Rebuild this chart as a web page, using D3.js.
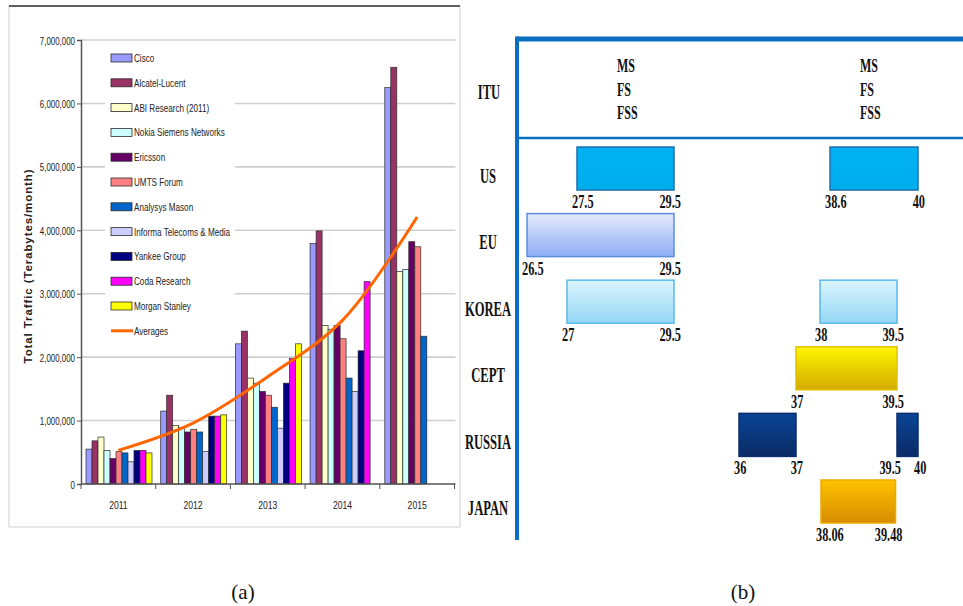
<!DOCTYPE html>
<html>
<head>
<meta charset="utf-8">
<script src="https://cdn.jsdelivr.net/npm/d3@7/dist/d3.min.js"></script>
<style>
  html, body { margin: 0; padding: 0; background: #fff; }
  svg { display: block; }
  .sans { font-family: "Liberation Sans", Arial, sans-serif; }
  .serif { font-family: "Liberation Serif", "Times New Roman", serif; }
</style>
</head>
<body>
<svg id="fig" width="963" height="606"></svg>
<script>
// ---------- (a) mobile traffic forecasts, terabytes per month ----------
const years = ["2011", "2012", "2013", "2014", "2015"];
const seriesNames = [
  "Cisco", "Alcatel-Lucent", "ABI Research (2011)", "Nokia Siemens Networks",
  "Ericsson", "UMTS Forum", "Analysys Mason", "Informa Telecoms & Media",
  "Yankee Group", "Coda Research", "Morgan Stanley"
];
const cisco          = [550000, 1150000, 2210000, 3790000, 6250000];
const alcatelLucent  = [680000, 1400000, 2410000, 3990000, 6570000];
const abiResearch    = [740000,  920000, 1670000, 2500000, 3350000];
const nokiaSiemens   = [530000,  890000, 1590000, 2440000, 3380000];
const ericsson       = [400000,  820000, 1460000, 2500000, 3820000];
const umtsForum      = [510000,  860000, 1400000, 2290000, 3740000];
const analysysMason  = [490000,  820000, 1210000, 1670000, 2330000];
const informa        = [350000,  510000,  880000, 1460000, null];
const yankeeGroup    = [530000, 1070000, 1590000, 2100000, null];
const codaResearch   = [530000, 1070000, 1980000, 3190000, null];
const morganStanley  = [490000, 1090000, 2210000, null, null];
const averages       = [530000,  960000, 1690000, 2580000, 4210000];
const yTicks = [0, 1000000, 2000000, 3000000, 4000000, 5000000, 6000000, 7000000];

const seriesValues = [cisco, alcatelLucent, abiResearch, nokiaSiemens, ericsson,
  umtsForum, analysysMason, informa, yankeeGroup, codaResearch, morganStanley];
const seriesColors = ["#9999ff", "#993366", "#ffffcc", "#ccffff", "#660066",
  "#ff8080", "#0066cc", "#ccccff", "#000080", "#ff00ff", "#ffff00"];
const averageColor = "#ff6600";

// ---------- (b) frequency band allocations, GHz ----------
const regions = ["US", "EU", "KOREA", "CEPT", "RUSSIA", "JAPAN"];
const bandRegion = ["US", "US", "EU", "KOREA", "KOREA", "CEPT", "RUSSIA", "RUSSIA", "JAPAN"];
const bandLow    = [27.5, 38.6, 26.5, 27,   38,   37,   36, 39.5, 38.06];
const bandHigh   = [29.5, 40,   29.5, 29.5, 39.5, 39.5, 37, 40,   39.48];
const ituServices = ["MS", "FS", "FSS"];
// the band plan is schematic, so each frequency stop has its own place on the axis
const freqStops = [26.5, 27, 27.5, 29.5, 36, 37, 38, 38.6, 39.5, 40];

const svg = d3.select("#fig");
svg.append("rect").attr("width", 963).attr("height", 606).attr("fill", "#fff");

// condensed text: regular font squeezed horizontally
function cText(g, cls, x, yPos, str, size, anchor, sx, weight) {
  return g.append("text").attr("class", cls)
    .attr("transform", `translate(${x},${yPos}) scale(${sx},1)`)
    .attr("text-anchor", anchor).attr("font-size", size)
    .attr("font-weight", weight || "normal").attr("fill", "#111").text(str);
}

// =================== panel (a) ===================
const A = { left: 81, right: 454.5, top: 40, bottom: 484 };
const pa = svg.append("g");

// outer chart frame
pa.append("rect").attr("x", 9).attr("y", 6).attr("width", 451).attr("height", 521)
  .attr("fill", "none").attr("stroke", "#cfcfcf").attr("stroke-width", 1);
pa.append("line").attr("x1", 9).attr("x2", 460).attr("y1", 6).attr("y2", 6)
  .attr("stroke", "#333").attr("stroke-width", 1.5);

const x0 = d3.scaleBand().domain(years).range([A.left, A.right]);
const x1 = d3.scaleBand().domain(seriesNames).range([5, x0.bandwidth() - 3.7]);
const y = d3.scaleLinear().domain([0, 7000000]).range([A.bottom, A.top]);

// gridlines
pa.append("g").selectAll("line").data(yTicks.filter(d => d > 0)).join("line")
  .attr("x1", A.left).attr("x2", A.right + 1)
  .attr("y1", d => y(d)).attr("y2", d => y(d))
  .attr("stroke", "#cfcfcf").attr("stroke-width", 1.6);

// legend background hides the grid behind it
pa.append("rect").attr("x", 105).attr("y", 46).attr("width", 130).attr("height", 298).attr("fill", "#fff");

// bars
const barData = [];
seriesNames.forEach((s, i) => years.forEach((yr, j) => {
  const v = seriesValues[i][j];
  if (v != null) barData.push({ series: s, year: yr, value: v, color: seriesColors[i] });
}));
pa.append("g").selectAll("rect").data(barData).join("rect")
  .attr("x", d => x0(d.year) + x1(d.series))
  .attr("width", x1.bandwidth())
  .attr("y", d => y(d.value))
  .attr("height", d => y(0) - y(d.value))
  .attr("fill", d => d.color)
  .attr("stroke", "#2b2b2b").attr("stroke-width", 0.7);

// averages line
const avgLine = d3.line()
  .x((d, i) => x0(years[i]) + x0.bandwidth() / 2)
  .y(d => y(d))
  .curve(d3.curveCatmullRom.alpha(0.5));
pa.append("path").datum(averages).attr("d", avgLine)
  .attr("fill", "none").attr("stroke", averageColor).attr("stroke-width", 3);

// y axis
const yAxis = d3.axisLeft(y).tickValues(yTicks).tickSize(4).tickPadding(3)
  .tickFormat(d3.format(","));
const gy = pa.append("g").attr("transform", `translate(${A.left},0)`).call(yAxis);
gy.select(".domain").attr("stroke", "#555").attr("stroke-width", 1.5);
gy.selectAll(".tick line").attr("stroke", "#555");
gy.selectAll(".tick text")
  .attr("class", "sans").attr("font-size", 11).attr("fill", "#222")
  .attr("x", null).attr("dy", null)
  .attr("transform", "translate(-6,4) scale(0.72,1)");

// x axis with ticks at category boundaries
const gx = pa.append("g").attr("transform", `translate(0,${A.bottom})`);
gx.append("line").attr("x1", A.left).attr("x2", A.right + 1).attr("stroke", "#555").attr("stroke-width", 1.5);
gx.selectAll("line.tk").data(d3.range(years.length + 1)).join("line").attr("class", "tk")
  .attr("x1", i => A.left + i * x0.bandwidth()).attr("x2", i => A.left + i * x0.bandwidth())
  .attr("y1", 0).attr("y2", 5).attr("stroke", "#555");
years.forEach(yr => cText(gx, "sans", x0(yr) + x0.bandwidth() / 2, 25, yr, 11, "middle", 0.78).attr("fill", "#222"));

// y axis title
pa.append("text").attr("transform", `translate(32,${(A.top + A.bottom) / 2 + 4}) rotate(-90)`)
  .attr("text-anchor", "middle").attr("class", "sans")
  .attr("font-weight", "bold").attr("font-size", 11.5).attr("letter-spacing", 0.9).attr("fill", "#222")
  .text("Total Traffic (Terabytes/month)");

// legend
const legendItems = seriesNames.map((s, i) => ({ name: s, color: seriesColors[i], line: false }))
  .concat([{ name: "Averages", color: averageColor, line: true }]);
const lg = pa.append("g").selectAll("g").data(legendItems).join("g")
  .attr("transform", (d, i) => `translate(111,${58 + i * 24.8})`);
lg.filter(d => !d.line).append("rect").attr("x", 0).attr("y", -4).attr("width", 21).attr("height", 8)
  .attr("fill", d => d.color).attr("stroke", "#2b2b2b").attr("stroke-width", 0.8);
lg.filter(d => d.line).append("line").attr("x1", 0).attr("x2", 22).attr("y1", 0).attr("y2", 0)
  .attr("stroke", d => d.color).attr("stroke-width", 3);
lg.each(function (d) {
  cText(d3.select(this), "sans", 23, 4, d.name, 11, "start", 0.74).attr("fill", "#222");
});

// =================== panel (b) ===================
const pb = svg.append("g");
const blue = "#0a6fc2";
const B = { left: 517, right: 963, top: 39, header: 138, bottom: 540 };

const fx = d3.scaleLinear().domain(freqStops)
  .range([527, 567, 577, 674, 739, 796, 820, 830, 897, 918]);
const ry = d3.scaleBand().domain(regions).range([147, 523]).paddingInner(0.354).paddingOuter(0);

// gradients per region
const defs = svg.append("defs");
const fills = {
  US: ["#00b0f0", "#00aeee"], EU: ["#e4eafc", "#8eadf3"], KOREA: ["#dbf4fd", "#95d7f5"],
  CEPT: ["#fff600", "#d3aa00"], RUSSIA: ["#0a4596", "#0b2b66"], JAPAN: ["#ffc300", "#d68c00"]
};
const strokes = { US: "#1d6fb0", EU: "#5b8ee0", KOREA: "#59bbea", CEPT: "#e0c000", RUSSIA: "#0b2d6b", JAPAN: "#f0a800" };
regions.forEach(r => {
  const g = defs.append("linearGradient").attr("id", "g-" + r).attr("x1", 0).attr("x2", 0).attr("y1", 0).attr("y2", 1);
  g.append("stop").attr("offset", "0%").attr("stop-color", fills[r][0]);
  g.append("stop").attr("offset", "100%").attr("stop-color", fills[r][1]);
});

// frame lines
pb.append("line").attr("x1", B.left).attr("x2", B.right).attr("y1", B.top).attr("y2", B.top)
  .attr("stroke", blue).attr("stroke-width", 5);
pb.append("line").attr("x1", B.left).attr("x2", B.left).attr("y1", B.top - 2.5).attr("y2", B.bottom)
  .attr("stroke", blue).attr("stroke-width", 4);
pb.append("line").attr("x1", B.left).attr("x2", B.right).attr("y1", B.header).attr("y2", B.header)
  .attr("stroke", blue).attr("stroke-width", 2.5);

// row labels
cText(pb, "serif", 489, 99, "ITU", 20, "middle", 0.63, "bold");
regions.forEach(r => cText(pb, "serif", 488, ry(r) + ry.bandwidth() / 2 + 14, r, 20, "middle", 0.63, "bold"));

// ITU service header, one column per allocation block
[617, 860].forEach(cx => ituServices.forEach((s, i) => cText(pb, "serif", cx, 72 + i * 23.5, s, 19, "start", 0.63, "bold")));

// band bars
const bands = bandRegion.map((r, i) => ({ region: r, lo: bandLow[i], hi: bandHigh[i] }));
pb.append("g").selectAll("rect").data(bands).join("rect")
  .attr("x", d => fx(d.lo)).attr("width", d => fx(d.hi) - fx(d.lo))
  .attr("y", d => ry(d.region)).attr("height", ry.bandwidth())
  .attr("fill", d => "url(#g-" + d.region + ")")
  .attr("stroke", d => strokes[d.region]).attr("stroke-width", 1.5);

// edge frequency labels
bands.forEach(d => {
  const yb = ry(d.region) + ry.bandwidth() + 18;
  const narrowBand = fx(d.hi) - fx(d.lo) < 40;
  if (narrowBand) {
    cText(pb, "serif", fx(d.lo) + 4, yb, String(d.lo), 19, "end", 0.65, "bold");
    cText(pb, "serif", fx(d.hi) - 4, yb, String(d.hi), 19, "start", 0.65, "bold");
  } else {
    cText(pb, "serif", fx(d.lo) - 5, yb, String(d.lo), 19, "start", 0.65, "bold");
    cText(pb, "serif", fx(d.hi) + 7, yb, String(d.hi), 19, "end", 0.65, "bold");
  }
});

// panel captions
cText(svg, "serif", 243, 599, "(a)", 21, "middle", 1);
cText(svg, "serif", 743, 599, "(b)", 21, "middle", 1);
</script>
</body>
</html>
